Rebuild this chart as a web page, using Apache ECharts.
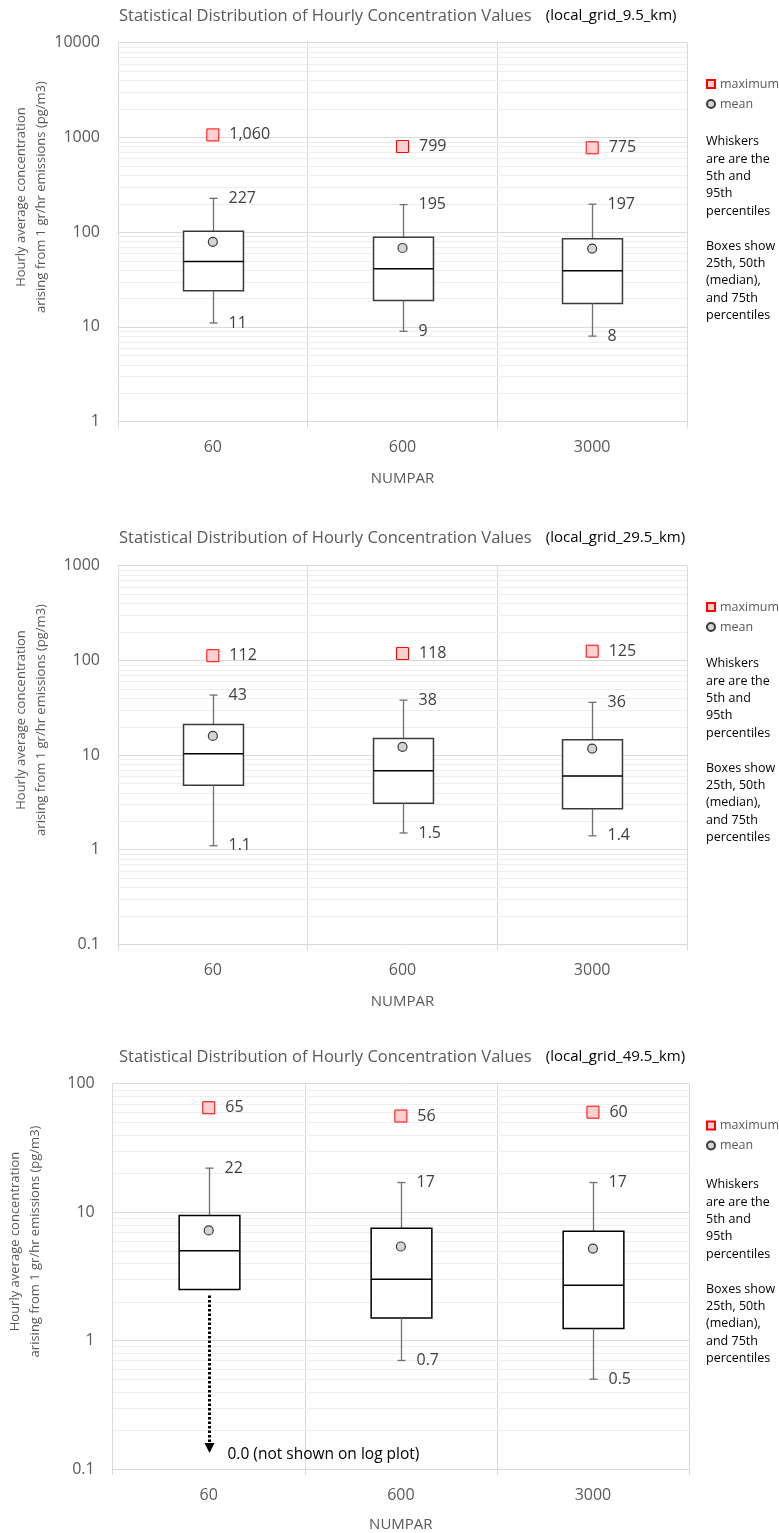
<!DOCTYPE html>
<html>
<head>
<meta charset="utf-8">
<script src="https://cdn.jsdelivr.net/npm/echarts@6/dist/echarts.min.js"></script>
<style>
  html, body { margin: 0; padding: 0; background: #fff; }
  #chart { width: 779px; height: 1533px; }
</style>
</head>
<body>
<div id="chart"></div>
<script>
// NUMPAR settings on the x axis
const categories = ['60', '600', '3000'];

// Grid names shown next to each panel title
const gridNames = ['local_grid_9.5_km', 'local_grid_29.5_km', 'local_grid_49.5_km'];

// y-axis ranges (log scale)
const yMins = [1, 0.1, 0.1];
const yMaxs = [10000, 1000, 100];

// Panel 1: local_grid_9.5_km
const g1_p5     = [11, 9, 8];
const g1_q1     = [24, 19, 17.7];
const g1_median = [49, 41, 39];
const g1_q3     = [102, 88, 85];
const g1_p95    = [227, 195, 197];
const g1_mean   = [79, 68, 67];
const g1_max    = [1060, 799, 775];

// Panel 2: local_grid_29.5_km
const g2_p5     = [1.1, 1.5, 1.4];
const g2_q1     = [4.8, 3.1, 2.7];
const g2_median = [10.3, 6.8, 6.0];
const g2_q3     = [21, 14.9, 14.5];
const g2_p95    = [43, 38, 36];
const g2_mean   = [15.9, 12.2, 11.7];
const g2_max    = [112, 118, 125];

// Panel 3: local_grid_49.5_km
const g3_p5     = [0.0, 0.7, 0.5];
const g3_q1     = [2.5, 1.5, 1.24];
const g3_median = [5.0, 3.0, 2.7];
const g3_q3     = [9.4, 7.5, 7.1];
const g3_p95    = [22, 17, 17];
const g3_mean   = [7.2, 5.4, 5.2];
const g3_max    = [65, 56, 60];

const panels = [
  { p5: g1_p5, q1: g1_q1, median: g1_median, q3: g1_q3, p95: g1_p95, mean: g1_mean, max: g1_max },
  { p5: g2_p5, q1: g2_q1, median: g2_median, q3: g2_q3, p95: g2_p95, mean: g2_mean, max: g2_max },
  { p5: g3_p5, q1: g3_q1, median: g3_median, q3: g3_q3, p95: g3_p95, mean: g3_mean, max: g3_max }
];

// Layout of the three plot areas
const gridBoxes = [
  { left: 118, top: 42.5, width: 569, height: 379.2 },
  { left: 118, top: 565.7, width: 569, height: 378.6 },
  { left: 112.7, top: 1083.7, width: 576.3, height: 385.6 }
];
const titleTops = [7, 529, 1048];
const legendTops = [76.5, 599.5, 1118];
const noteTops = [133, 655, 1176];
const nameGaps = [50, 50, 48];

const FONT = '"Open Sans", "Liberation Sans", sans-serif';
const GRID_MAJOR = '#d9d9d9';
const GRID_MINOR = '#eeeeee';
const TEXT_GREY = '#595959';
const LABEL_GREY = '#404040';

function fmtValue(v) {
  return Number(v).toLocaleString('en-US', { maximumFractionDigits: 1 });
}
function fmtTick(v) {
  return String(+Number(v).toPrecision(6));
}
function minorValues(min, max) {
  const out = [];
  for (let d = Math.round(Math.log10(min)); d < Math.round(Math.log10(max)); d++) {
    for (let k = 2; k <= 9; k++) out.push(+(k * Math.pow(10, d)).toPrecision(6));
  }
  return out;
}

// Light gridlines at 2..9 of each decade, placed with the y scale
function renderMinorLine(params, api) {
  const cs = params.coordSys;
  const y = Math.round(api.coord([0, api.value(0)])[1]) + 0.5;
  return {
    type: 'line',
    shape: { x1: cs.x, y1: y, x2: cs.x + cs.width, y2: y },
    style: { stroke: GRID_MINOR, lineWidth: 1 },
    silent: true
  };
}

// Box, median, whiskers and whisker labels drawn through the axis scales
function renderBox(params, api) {
  const x = api.value(0);
  const p5 = api.value(1), q1 = api.value(2), med = api.value(3), q3 = api.value(4), p95 = api.value(5);
  const band = api.size([1, 0])[0];
  const half = band * 0.158;
  const cx = Math.round(api.coord([x, q3])[0]) + 0.5;
  const yQ1 = api.coord([x, q1])[1];
  const yMed = api.coord([x, med])[1];
  const yQ3 = api.coord([x, q3])[1];
  const yP95 = api.coord([x, p95])[1];
  const boxStroke = params.seriesIndex > 6 ? '#000' : '#3a3a3a';
  const whiskerColor = '#6f6f6f';
  const labelStyle = { fontSize: 16, fontFamily: FONT, fill: LABEL_GREY, align: 'left', verticalAlign: 'middle' };
  const children = [
    { type: 'line', shape: { x1: cx, y1: yQ3, x2: cx, y2: yP95 }, style: { stroke: whiskerColor, lineWidth: 1.3 } },
    { type: 'line', shape: { x1: cx - 4, y1: yP95, x2: cx + 4, y2: yP95 }, style: { stroke: whiskerColor, lineWidth: 1.3 } },
    { type: 'rect', shape: { x: cx - half, y: yQ3, width: half * 2, height: yQ1 - yQ3 }, style: { fill: '#fff', stroke: boxStroke, lineWidth: 1.5 } },
    { type: 'line', shape: { x1: cx - half, y1: yMed, x2: cx + half, y2: yMed }, style: { stroke: '#000', lineWidth: 1.5 } },
    { type: 'text', x: cx + 15, y: yP95, style: Object.assign({ text: fmtValue(p95) }, labelStyle) }
  ];
  if (p5 > 0) {
    const yP5 = api.coord([x, p5])[1];
    children.push(
      { type: 'line', shape: { x1: cx, y1: yQ1, x2: cx, y2: yP5 }, style: { stroke: whiskerColor, lineWidth: 1.3 } },
      { type: 'line', shape: { x1: cx - 4, y1: yP5, x2: cx + 4, y2: yP5 }, style: { stroke: whiskerColor, lineWidth: 1.3 } },
      { type: 'text', x: cx + 15, y: yP5, style: Object.assign({ text: fmtValue(p5) }, labelStyle) }
    );
  } else {
    // A zero 5th percentile cannot sit on a log axis: point at it with a dotted arrow
    const yBottom = params.coordSys.y + params.coordSys.height;
    const tipY = yBottom - 16;
    children.push(
      { type: 'line', shape: { x1: cx, y1: yQ1 + 6, x2: cx, y2: tipY - 9 }, style: { stroke: '#000', lineWidth: 3, lineDash: [2.5, 2] } },
      { type: 'polygon', shape: { points: [[cx - 5, tipY - 10], [cx + 5, tipY - 10], [cx, tipY]] }, style: { fill: '#000' } },
      { type: 'text', x: cx + 18, y: tipY + 2, style: { text: Number(p5).toFixed(1) + ' (not shown on log plot)', fontSize: 15.5, fontFamily: FONT, fill: '#000', align: 'left', verticalAlign: 'middle' } }
    );
  }
  return { type: 'group', children: children };
}

const option = {
  animation: false,
  backgroundColor: '#fff',
  textStyle: { fontFamily: FONT },
  title: gridNames.map((name, i) => ({
    left: 119,
    top: titleTops[i],
    padding: 0,
    text: '{a|Statistical Distribution of Hourly Concentration Values}   {b|(' + name + ')}',
    textStyle: {
      fontWeight: 'normal',
      rich: {
        a: { fontSize: 16.5, color: TEXT_GREY, fontFamily: FONT, fontWeight: 'normal' },
        b: { fontSize: 15, color: '#000', fontFamily: FONT, fontWeight: 'normal' }
      }
    }
  })),
  legend: legendTops.map((top, i) => ({
    left: 706,
    top: top,
    padding: 0,
    orient: 'vertical',
    itemWidth: 8,
    itemHeight: 8,
    itemGap: 5,
    selectedMode: false,
    textStyle: { fontSize: 12.5, color: TEXT_GREY, fontFamily: FONT, lineHeight: 15 },
    data: [
      { name: 'maximum', icon: 'rect' },
      { name: 'mean', icon: 'circle' }
    ]
  })),
  grid: gridBoxes.map(b => Object.assign({ containLabel: false }, b)),
  xAxis: gridBoxes.map((b, i) => ({
    type: 'category',
    gridIndex: i,
    data: categories,
    boundaryGap: true,
    name: 'NUMPAR',
    nameLocation: 'middle',
    nameGap: nameGaps[i],
    nameTextStyle: { fontSize: 15, color: TEXT_GREY, fontFamily: FONT },
    axisLine: { show: true, lineStyle: { color: GRID_MAJOR, width: 1 } },
    axisTick: { show: true, length: 6, lineStyle: { color: GRID_MAJOR } },
    axisLabel: { fontSize: 16, color: TEXT_GREY, margin: 18, fontFamily: FONT },
    splitLine: { show: true, lineStyle: { color: GRID_MAJOR, width: 1 } }
  })),
  yAxis: gridBoxes.map((b, i) => ({
    type: 'log',
    logBase: 10,
    gridIndex: i,
    min: yMins[i],
    max: yMaxs[i],
    axisLine: { show: false },
    axisTick: { show: false },
    axisLabel: { fontSize: 16, color: TEXT_GREY, margin: 18, fontFamily: FONT, formatter: fmtTick },
    splitLine: { show: true, lineStyle: { color: GRID_MAJOR, width: 1 } }
  })),
  graphic: gridBoxes.map(b => ({
    type: 'text',
    x: b.left - 87,
    y: b.top + b.height / 2 - 35,
    rotation: Math.PI / 2,
    style: {
      text: 'Hourly average concentration\narising from 1 gr/hr emissions (pg/m3)',
      fontSize: 13,
      lineHeight: 20,
      fontFamily: FONT,
      fill: TEXT_GREY,
      align: 'center',
      verticalAlign: 'middle'
    }
  })).concat(noteTops.map(top => ({
    type: 'text',
    left: 706,
    top: top,
    style: {
      text: 'Whiskers\nare are the\n5th and\n95th\npercentiles\n\nBoxes show\n25th, 50th\n(median),\nand 75th\npercentiles',
      fontSize: 12.5,
      lineHeight: 17.4,
      fontFamily: FONT,
      fill: '#000'
    }
  }))),
  series: []
};

panels.forEach((p, i) => {
  option.series.push({
    type: 'custom',
    name: 'minor-grid-' + i,
    xAxisIndex: i,
    yAxisIndex: i,
    silent: true,
    z: 0,
    renderItem: renderMinorLine,
    encode: { y: 0 },
    data: minorValues(yMins[i], yMaxs[i]).map(v => [v])
  });
  option.series.push({
    type: 'custom',
    name: 'box-' + i,
    xAxisIndex: i,
    yAxisIndex: i,
    z: 2,
    renderItem: renderBox,
    encode: { x: 0, y: [2, 4] },
    data: categories.map((c, j) => [j, p.p5[j], p.q1[j], p.median[j], p.q3[j], p.p95[j]])
  });
  option.series.push({
    type: 'scatter',
    name: 'mean',
    xAxisIndex: i,
    yAxisIndex: i,
    z: 3,
    symbol: 'circle',
    symbolSize: 9,
    itemStyle: { color: '#d4d4d4', borderColor: '#3a3a3a', borderWidth: 1.2, opacity: 1 },
    data: categories.map((c, j) => [j, p.mean[j]])
  });
  option.series.push({
    type: 'scatter',
    name: 'maximum',
    xAxisIndex: i,
    yAxisIndex: i,
    z: 3,
    symbol: 'rect',
    symbolSize: 12,
    itemStyle: { color: '#ffd0d0', borderColor: '#ff0000', borderWidth: 1, opacity: 1 },
    label: {
      show: true,
      position: 'right',
      distance: 10,
      fontSize: 16,
      color: LABEL_GREY,
      fontFamily: FONT,
      formatter: d => fmtValue(d.value[1])
    },
    data: categories.map((c, j) => [j, p.max[j]])
  });
});

const chart = echarts.init(document.getElementById('chart'), null, { renderer: 'canvas' });
chart.setOption(option);
</script>
</body>
</html>
